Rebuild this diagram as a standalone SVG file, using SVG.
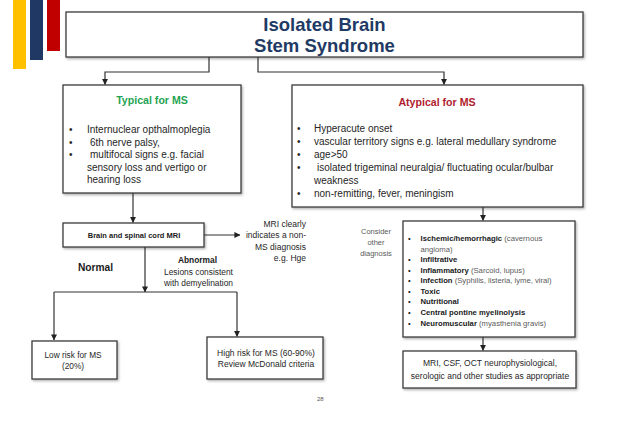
<svg xmlns="http://www.w3.org/2000/svg" width="638" height="422" viewBox="0 0 638 422">
<defs>
<style>
text{font-family:"Liberation Sans",Arial,sans-serif;fill:#262626}
.box{fill:#fff;stroke:#3c3c3c;stroke-width:1.3;filter:url(#sh)}
.b10{font-size:10px}
.ttl{font-size:18.5px;font-weight:bold;fill:#1f3a64;text-anchor:middle}
.hd{font-size:10.6px;font-weight:bold;text-anchor:middle}
.c{text-anchor:middle}
.r{text-anchor:end}
.s8{font-size:8.5px}
.s84{font-size:8.4px}
.cs{font-size:7.7px}
.bd{font-weight:bold;fill:#1a1a1a}
.gr{fill:#5a5a5a}
.ln{fill:none;stroke:#333;stroke-width:1.2}
</style>
<filter id="sh" x="-5%" y="-5%" width="115%" height="125%">
<feDropShadow dx="1.2" dy="1.5" stdDeviation="0.8" flood-color="#000" flood-opacity="0.3"/>
</filter>
<marker id="ar" viewBox="0 0 8 8" refX="7.5" refY="4" markerWidth="6" markerHeight="6" markerUnits="userSpaceOnUse" orient="auto">
<path d="M0,0 L8,4 L0,8 z" fill="#222"/>
</marker>
</defs>
<rect width="638" height="422" fill="#fff"/>
<g id="bars">
<rect x="13" y="0" width="13" height="69" fill="#ffc000"/>
<rect x="30" y="0" width="13" height="60" fill="#203864"/>
<rect x="47" y="0" width="13" height="51" fill="#c00000"/>
</g>
<g id="connectors">
<polyline class="ln" points="209,57 209,72 105,72 105,84.5" marker-end="url(#ar)"/>
<polyline class="ln" points="258,57 258,72 444,72 444,84.5" marker-end="url(#ar)"/>
<line class="ln" x1="133" y1="193" x2="133" y2="222.5" marker-end="url(#ar)"/>
<line class="ln" x1="204" y1="235" x2="240" y2="235" marker-end="url(#ar)"/>
<line class="ln" x1="145" y1="247" x2="145" y2="292" marker-end="url(#ar)"/>
<line class="ln" x1="54" y1="292" x2="237" y2="292"/>
<line class="ln" x1="54" y1="292" x2="54" y2="340" marker-end="url(#ar)"/>
<line class="ln" x1="237" y1="292" x2="237" y2="336.5" marker-end="url(#ar)"/>
<line class="ln" x1="483" y1="207" x2="483" y2="220.5" marker-end="url(#ar)"/>
<line class="ln" x1="483" y1="337" x2="483" y2="350.5" marker-end="url(#ar)"/>
</g>
<g id="title">
<rect class="box" x="66" y="12" width="517" height="45"/>
<text class="ttl" x="324.5" y="31">Isolated Brain</text>
<text class="ttl" x="324.5" y="51.5">Stem Syndrome</text>
</g>
<g id="typical">
<rect class="box" x="63" y="85" width="178" height="108"/>
<text class="hd" x="152" y="104" style="fill:#1fa353">Typical for MS</text>
<g class="b10">
<text x="69" y="133">•</text>
<text x="69" y="145.5">•</text>
<text x="69" y="158">•</text>
<text x="87" y="133">Internuclear opthalmoplegia</text>
<text x="90" y="145.5">6th nerve palsy,</text>
<text x="90" y="158">multifocal signs e.g. facial</text>
<text x="87" y="170.5">sensory loss and vertigo or</text>
<text x="87" y="183">hearing loss</text>
</g>
</g>
<g id="atypical">
<rect class="box" x="292" y="85" width="291" height="122"/>
<text class="hd" x="437" y="105.5" style="fill:#b01c2e">Atypical for MS</text>
<g class="b10">
<text x="297" y="132">•</text>
<text x="297" y="145">•</text>
<text x="297" y="158">•</text>
<text x="297" y="171">•</text>
<text x="297" y="197">•</text>
<text x="314" y="132">Hyperacute onset</text>
<text x="314" y="145">vascular territory signs e.g. lateral medullary syndrome</text>
<text x="314" y="158">age&gt;50</text>
<text x="317" y="171">isolated trigeminal neuralgia/ fluctuating ocular/bulbar</text>
<text x="314" y="184">weakness</text>
<text x="314" y="197">non-remitting, fever, meningism</text>
</g>
</g>
<g id="mri">
<rect class="box" x="63" y="223" width="141" height="24"/>
<text class="c bd" x="134" y="237.5" style="font-size:7.5px">Brain and spinal cord MRI</text>
</g>
<g id="mri-label">
<text class="r s8" x="306" y="226.5">MRI clearly</text>
<text class="r s8" x="306" y="238">indicates a non-</text>
<text class="r s8" x="306" y="249.5">MS diagnosis</text>
<text class="r s8" x="306" y="261">e.g. Hge</text>
</g>
<g id="normal-label">
<text class="bd" x="78" y="270.5" style="font-size:10.2px">Normal</text>
</g>
<g id="abnormal-label">
<text class="c bd s84" x="197.5" y="263">Abnormal</text>
<text class="c s84" x="198.5" y="275">Lesions consistent</text>
<text class="c s84" x="198.5" y="286">with demyelination</text>
</g>
<g id="low-risk">
<rect class="box" x="32" y="341" width="85" height="38"/>
<text class="c" x="73" y="358" style="font-size:8.3px">Low risk for MS</text>
<text class="c" x="73" y="369" style="font-size:8.3px">(20%)</text>
</g>
<g id="high-risk">
<rect class="box" x="207" y="337" width="116" height="42"/>
<text class="c s8" x="266" y="356">High risk for MS (60-90%)</text>
<text class="c s8" x="266" y="367">Review McDonald criteria</text>
</g>
<g id="consider-label">
<text class="c gr" x="376" y="234" style="font-size:7.5px">Consider</text>
<text class="c gr" x="376" y="245" style="font-size:7.5px">other</text>
<text class="c gr" x="376" y="256" style="font-size:7.5px">diagnosis</text>
</g>
<g id="consider">
<rect class="box" x="403" y="221" width="172" height="116"/>
<g class="cs">
<text x="408" y="241">•</text>
<text x="408" y="262.1">•</text>
<text x="408" y="272.7">•</text>
<text x="408" y="283.2">•</text>
<text x="408" y="293.8">•</text>
<text x="408" y="304.4">•</text>
<text x="408" y="314.9">•</text>
<text x="408" y="325.5">•</text>
<text x="420.5" y="241"><tspan class="bd">Ischemic/hemorrhagic</tspan><tspan class="gr"> (cavernous</tspan></text>
<text class="gr" x="420.5" y="251.6">angioma)</text>
<text class="bd" x="420.5" y="262.1">Infiltrative</text>
<text x="420.5" y="272.7"><tspan class="bd">Inflammatory</tspan><tspan class="gr"> (Sarcoid, lupus)</tspan></text>
<text x="420.5" y="283.2"><tspan class="bd">Infection</tspan><tspan class="gr"> (Syphilis, listeria, lyme, viral)</tspan></text>
<text class="bd" x="420.5" y="293.8">Toxic</text>
<text class="bd" x="420.5" y="304.4">Nutritional</text>
<text class="bd" x="420.5" y="314.9">Central pontine myelinolysis</text>
<text x="420.5" y="325.5"><tspan class="bd">Neuromuscular</tspan><tspan class="gr"> (myasthenia gravis)</tspan></text>
</g>
</g>
<g id="studies">
<rect class="box" x="403" y="351" width="173" height="37"/>
<text class="c s8" x="490" y="366">MRI, CSF, OCT neurophysiological,</text>
<text class="c s8" x="490" y="379">serologic and other studies as appropriate</text>
</g>
<text x="317" y="401" style="font-size:6px;fill:#555">28</text>
</svg>
